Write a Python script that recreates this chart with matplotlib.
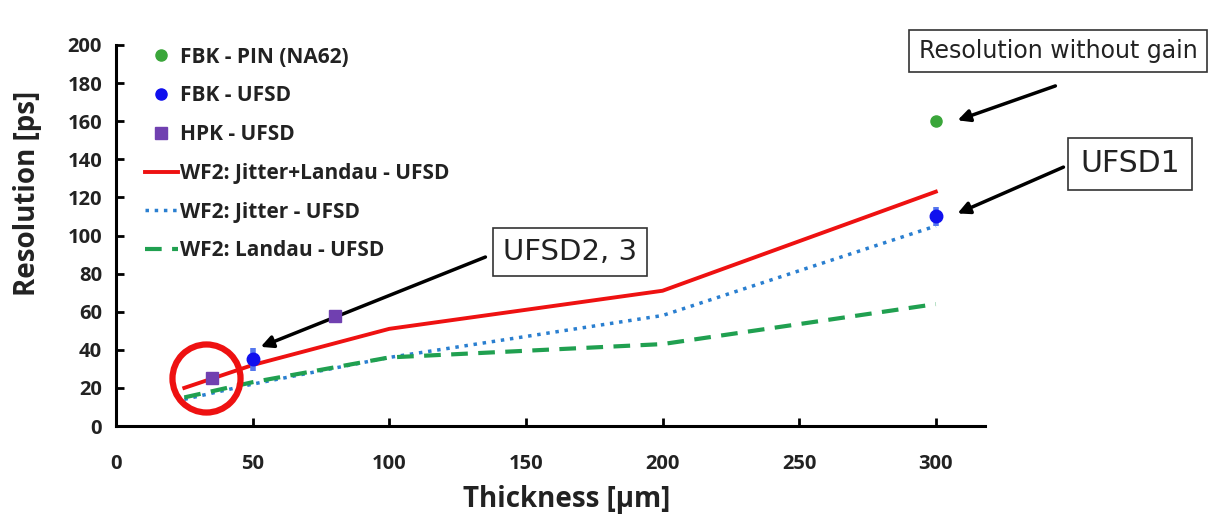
import matplotlib
matplotlib.use("Agg")
import matplotlib.pyplot as plt

# data
pin_x = [300]
pin_y = [160]
fbk_x = [50, 300]
fbk_y = [35, 110]
fbk_err = [6, 5]
hpk_x = [35, 80]
hpk_y = [25, 58]
model_x = [25, 50, 100, 200, 300]
jl_y = [20, 32, 51, 71, 123]
jit_y = [14, 22, 36, 58, 105]
lan_y = [15, 23, 36, 43, 64]
circle_xy = (33, 25)

xticks = [0, 50, 100, 150, 200, 250, 300]
yticks = list(range(0, 201, 20))

plt.rcParams['font.family'] = ['Open Sans', 'DejaVu Sans']

fig = plt.figure(figsize=(12.21, 5.19), dpi=100)
ax = fig.add_axes([116/1221, 1-426/519, (985-116)/1221, (426-45)/519])

h1, = ax.plot(pin_x, pin_y, 'o', color='#3aa63a', ms=8, label='FBK - PIN (NA62)', zorder=5)
h2 = ax.errorbar(fbk_x, fbk_y, yerr=fbk_err, fmt='o', color='#1010ee', ecolor='#5577ee',
                 elinewidth=4, ms=9, capsize=0, label='FBK - UFSD', zorder=5)
h3, = ax.plot(hpk_x, hpk_y, 's', color='#7040b0', ms=9, label='HPK - UFSD', zorder=5)
h4, = ax.plot(model_x, jl_y, '-', color='#ee1111', lw=2.8, label='WF2: Jitter+Landau - UFSD', zorder=3)
h5, = ax.plot(model_x, jit_y, ':', color='#2a7fd0', lw=2.5, label='WF2: Jitter - UFSD', zorder=3)
h6, = ax.plot(model_x, lan_y, '--', color='#20a050', lw=3, dashes=(4, 2.5), label='WF2: Landau - UFSD', zorder=3)

ax.plot([circle_xy[0]], [circle_xy[1]], 'o', ms=49, mfc='none', mec='#ee1111', mew=4.5, zorder=6)

ax.set_xlim(0, 318)
ax.set_ylim(0, 200)
ax.set_xticks(xticks)
ax.set_yticks(yticks)
for s in ['top', 'right']:
    ax.spines[s].set_visible(False)
for s in ['left', 'bottom']:
    ax.spines[s].set_linewidth(2.2)
ax.tick_params(direction='in', length=6, width=2, labelsize=14.5, labelcolor='#222222')
ax.tick_params(axis='x', pad=20)
ax.tick_params(axis='y', pad=10)
for lab in ax.get_xticklabels() + ax.get_yticklabels():
    lab.set_fontweight('bold')
ax.set_xlabel('Thickness [μm]', fontsize=20, fontweight='bold', color='#222222')
ax.set_ylabel('Resolution [ps]', fontsize=20, fontweight='bold', color='#222222')
ax.xaxis.set_label_coords((567-116)/869, (426-485)/381)
ax.yaxis.set_label_coords((42-116)/869, 1-(193-45)/381)

fbk_handle = ax.plot([], [], 'o', color='#1010ee', ms=8)[0]
leg = ax.legend([h1, fbk_handle, h3, h4, h5, h6],
                [h1.get_label(), 'FBK - UFSD', h3.get_label(), h4.get_label(), h5.get_label(), h6.get_label()],
                loc='upper left', bbox_to_anchor=(126/1221, 1-28/519), bbox_transform=fig.transFigure,
                frameon=False, labelspacing=0.85, handlelength=1.6, handletextpad=0.1,
                prop={'weight': 'bold', 'size': 15})
for t in leg.get_texts():
    t.set_color('#222222')

fam = ['DejaVu Sans']
fig.text(1058/1221, 1-51/519, 'Resolution without gain', fontsize=17, ha='center', va='center',
         family=fam, bbox=dict(boxstyle='square,pad=0.4', fc='white', ec='#333333', lw=1.2), color='#222222')
fig.text(1130/1221, 1-164/519, 'UFSD1', fontsize=21.5, ha='center', va='center',
         family=fam, bbox=dict(boxstyle='square,pad=0.4', fc='white', ec='#333333', lw=1.2), color='#222222')
fig.text(570/1221, 1-252/519, 'UFSD2, 3', fontsize=21, ha='center', va='center',
         family=fam, bbox=dict(boxstyle='square,pad=0.35', fc='white', ec='#333333', lw=1.2), color='#222222')

arrow = dict(arrowstyle='-|>', color='black', lw=2.5, mutation_scale=18)
ax.annotate('', xy=(307, 160), xycoords='data', xytext=(1058/1221, 1-85/519), textcoords='figure fraction',
            arrowprops=arrow)
ax.annotate('', xy=(307, 111), xycoords='data', xytext=(1066/1221, 1-166/519), textcoords='figure fraction',
            arrowprops=arrow)
ax.annotate('', xy=(52, 41), xycoords='data', xytext=(488/1221, 1-256/519), textcoords='figure fraction',
            arrowprops=arrow)

fig.savefig('out.png', dpi=100)
